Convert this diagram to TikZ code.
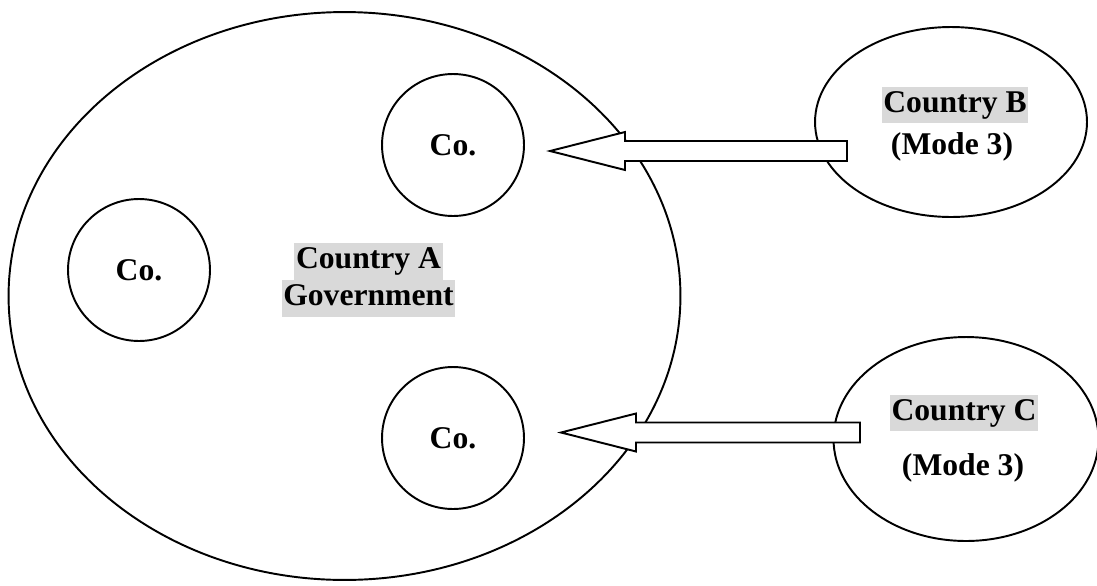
\documentclass[tikz,border=0pt]{standalone}
\usepackage{fontspec}
\setmainfont{Liberation Serif}
\usetikzlibrary{calc,shapes.geometric}

\tikzset{
    lbl/.style={font=\fontsize{18}{21}\selectfont\bfseries,inner sep=0pt},
    hl/.style={lbl,fill=black!15,inner xsep=1pt,text height=14.5pt,text depth=6.5pt},
    firm/.style={circle,draw,line width=1.1pt,minimum size=2.84cm,lbl},
    land/.style={ellipse,draw,line width=1.1pt,inner sep=0pt},
    flow/.style={draw,fill=white,line width=1.1pt,line join=miter}
}

\begin{document}
\begin{tikzpicture}[x=0.02cm,y=-0.02cm]
        \useasboundingbox (0,0) rectangle (1097,585);
        % Host country and its firms
        \node[land,minimum width=13.44cm,minimum height=11.36cm] (countryA) at (344.5,296) {};
        \node[hl] (nameA) at (368.5,261.5) {Country A};
        \node[hl] (govA) at (368.5,298.5) {Government};
        \node[firm] (coTop) at (453,145) {Co.};
        \node[firm] (coLeft) at (139,270) {Co.};
        \node[firm] (coBottom) at (453,438) {Co.};
        % Foreign countries
        \node[land,minimum width=5.44cm,minimum height=3.8cm] (countryB) at (951,122) {};
        \node[hl] (nameB) at (955,105) {Country B};
        \node[lbl] (modeB) at (952,147) {(Mode 3)};
        \node[land,minimum width=5.3cm,minimum height=4.08cm] (countryC) at (966,439) {};
        \node[hl] (nameC) at (964,413) {Country C};
        \node[lbl] (modeC) at (963,468) {(Mode 3)};
        % Block arrows into country A
        \coordinate (bTip) at (550,151);
        \coordinate (bTail) at (847,151);
        \coordinate (cTip) at (561,432.5);
        \coordinate (cTail) at (860,432.5);
        \foreach \t/\e in {bTip/bTail,cTip/cTail} {
            \draw[flow] (\t) -- ++(75,-19) -- ++(0,9) -- ($(\e)+(0,-10)$)
                -- ($(\e)+(0,10)$) -- ($(\t)+(75,10)$) -- ++(0,9) -- cycle;
        }
    \end{tikzpicture}
\end{document}
